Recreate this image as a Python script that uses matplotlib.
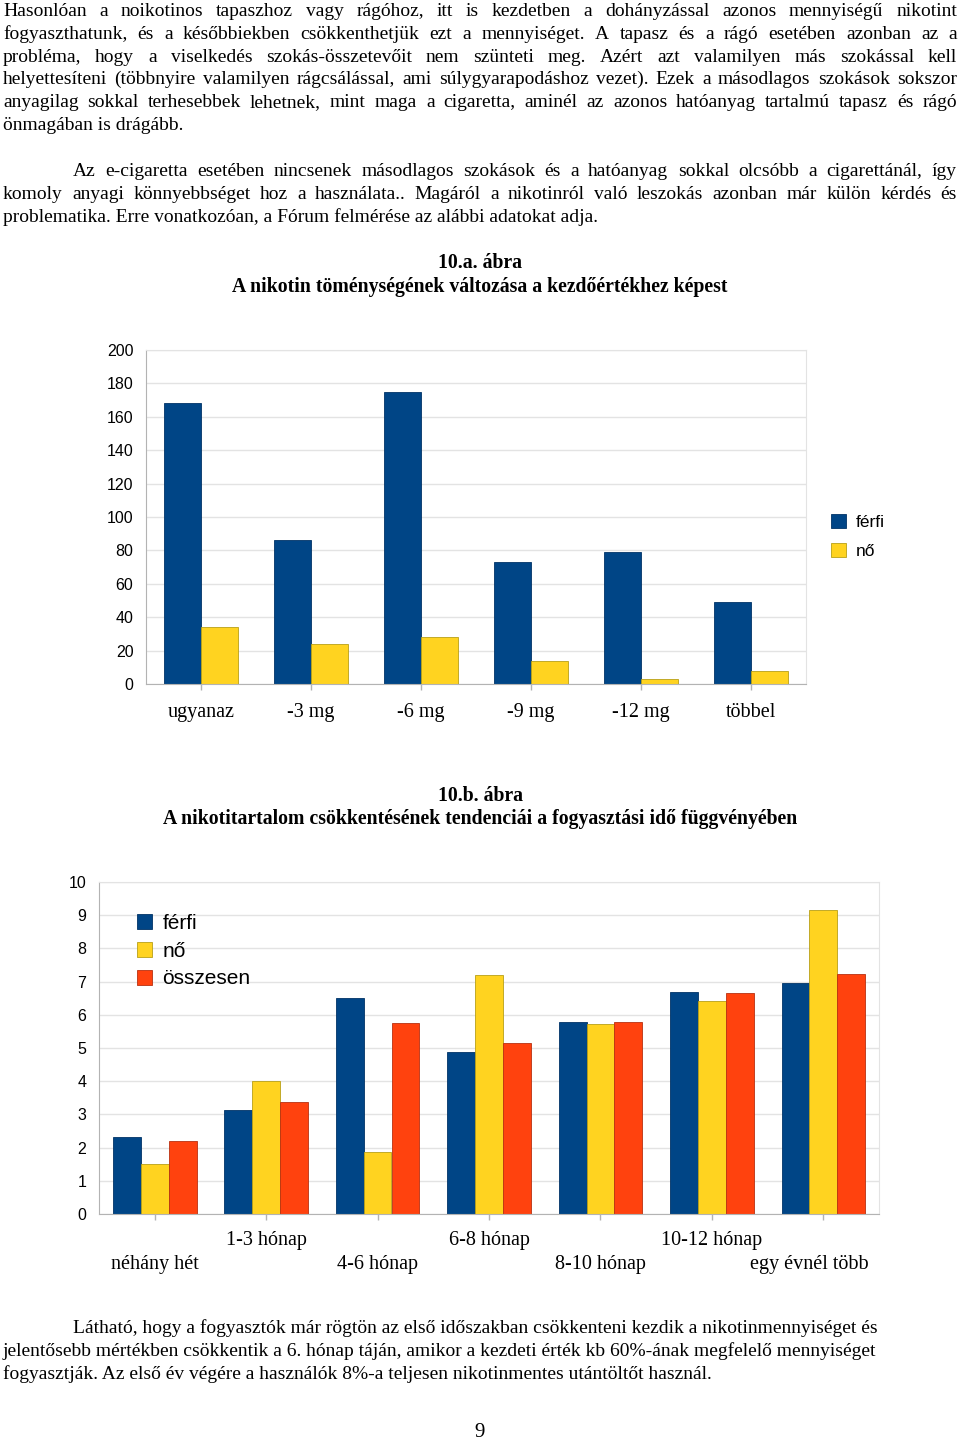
import matplotlib
matplotlib.use("Agg")
import matplotlib.pyplot as plt
import matplotlib.transforms as mtransforms
import numpy as np

W, H = 960, 1440
SERIF = "Liberation Serif"
SANS = "Liberation Sans"

# page text
para1 = [
    "Hasonlóan a noikotinos tapaszhoz vagy rágóhoz, itt is kezdetben a dohányzással azonos mennyiségű nikotint",
    "fogyaszthatunk, és  a későbbiekben csökkenthetjük ezt a mennyiséget. A tapasz és a rágó esetében azonban az a",
    "probléma, hogy a viselkedés szokás-összetevőit nem szünteti meg. Azért azt valamilyen más szokással kell",
    "helyettesíteni (többnyire valamilyen rágcsálással, ami súlygyarapodáshoz vezet). Ezek a másodlagos szokások sokszor",
    "anyagilag sokkal terhesebbek lehetnek, mint maga a cigaretta, aminél az azonos hatóanyag tartalmú tapasz és rágó",
    "önmagában is drágább.",
]
para2 = [
    "Az e-cigaretta esetében nincsenek másodlagos szokások és a hatóanyag sokkal olcsóbb a cigarettánál, így",
    "komoly anyagi könnyebbséget hoz a használata.. Magáról a nikotinról való leszokás azonban már külön kérdés és",
    "problematika. Erre vonatkozóan, a Fórum felmérése az alábbi adatokat adja.",
]
para3 = [
    "Látható, hogy a fogyasztók már rögtön az első időszakban csökkenteni kezdik a nikotinmennyiséget és",
    "jelentősebb mértékben csökkentik a 6. hónap táján, amikor a kezdeti érték kb 60%-ának megfelelő mennyiséget",
    "fogyasztják. Az első év végére a használók 8%-a teljesen nikotinmentes utántöltőt használ.",
]
title_a = ["10.a. ábra", "A nikotin töménységének változása a kezdőértékhez képest"]
title_b = ["10.b. ábra", "A nikotitartalom csökkentésének tendenciái a fogyasztási idő függvényében"]
page_no = "9"

# chart 10.a
cats_a = ["ugyanaz", "-3 mg", "-6 mg", "-9 mg", "-12 mg", "többel"]
ferfi_a = [168, 86, 175, 73, 79, 49]
no_a = [34, 24, 28, 14, 3, 8]

# chart 10.b
cats_b = ["néhány hét", "1-3 hónap", "4-6 hónap", "6-8 hónap", "8-10 hónap", "10-12 hónap", "egy évnél több"]
ferfi_b = [2.33, 3.13, 6.51, 4.87, 5.79, 6.70, 6.95]
no_b = [1.50, 4.00, 1.88, 7.19, 5.73, 6.43, 9.15]
ossz_b = [2.21, 3.37, 5.76, 5.14, 5.78, 6.65, 7.22]

BLUE, YELLOW, ORANGE = "#004586", "#ffd320", "#ff420e"
BLUE_E, YELLOW_E, ORANGE_E = "#003366", "#b8a017", "#b83010"

fig = plt.figure(figsize=(W / 100, H / 100), dpi=100)
rend = fig.canvas.get_renderer()


def fx(x):
    return x / W


def fy(y):
    return 1 - y / H


def put_line(s, x0, y, x1=None, size=14, weight="normal", justify=False):
    """places one text line, spreading words to x1 when justify is on"""
    if not justify:
        t = fig.text(fx(x0), fy(y), s, fontsize=size, family=SERIF,
                     weight=weight, va="baseline", ha="left")
        if x1 is not None:
            w = t.get_window_extent(renderer=rend).width
            if w > x1 - x0:
                t.set_fontsize(size * (x1 - x0) / w)
        return
    words = [w for w in s.split(" ") if w]
    texts = [fig.text(fx(x0), fy(y), w, fontsize=size, family=SERIF,
                      weight=weight, va="baseline", ha="left") for w in words]
    widths = [t.get_window_extent(renderer=rend).width for t in texts]
    gap = (x1 - x0 - sum(widths)) / (len(words) - 1)
    x = x0
    for t, w in zip(texts, widths):
        t.set_x(fx(x))
        x += w + gap


def put_center(s, y, size=14, weight="normal"):
    fig.text(0.5, fy(y), s, fontsize=size, family=SERIF, weight=weight,
             va="baseline", ha="center")


# paragraph 1
for i, line in enumerate(para1):
    last = i == len(para1) - 1
    put_line(line, 3, 16 + i * 22.8, 957, justify=not last)

# paragraph 2
for i, line in enumerate(para2):
    last = i == len(para2) - 1
    x0 = 73 if i == 0 else 3
    put_line(line, x0, 176 + i * 22.8, 957, justify=not last)

put_center(title_a[0], 268, size=14.2, weight="bold")
put_center(title_a[1], 292, size=14.2, weight="bold")
put_center(title_b[0], 801, size=14.2, weight="bold")
put_center(title_b[1], 824, size=14.2, weight="bold")

# paragraph 3 (narrower set)
put_line(para3[0], 73, 1333, 890)
put_line(para3[1], 3, 1356, 889)
put_line(para3[2], 3, 1379, 723)
put_center(page_no, 1437, size=15)


def style_axes(ax, ymax, step, pad):
    ax.set_ylim(0, ymax)
    ax.set_yticks(np.arange(0, ymax + step / 2, step))
    ax.yaxis.grid(True, color="#e3e3e3", linewidth=1)
    ax.set_axisbelow(True)
    for side in ["top", "right"]:
        ax.spines[side].set_color("#e3e3e3")
    for side in ["left", "bottom"]:
        ax.spines[side].set_color("#b3b3b3")
    ax.tick_params(axis="y", length=0, pad=pad, labelsize=11.5)
    ax.tick_params(axis="x", length=4, color="#b3b3b3", width=1)
    for lab in ax.get_yticklabels():
        lab.set_family(SANS)


# chart 10.a
ax1 = fig.add_axes([fx(146), fy(684), (806 - 146) / W, (684 - 350) / H])
xa = np.arange(len(cats_a))
bw = 1 / 3
ax1.bar(xa - bw / 2, ferfi_a, bw, color=BLUE, edgecolor=BLUE_E, linewidth=0.6, label="férfi")
ax1.bar(xa + bw / 2, no_a, bw, color=YELLOW, edgecolor=YELLOW_E, linewidth=0.6, label="nő")
ax1.set_xlim(-0.5, len(cats_a) - 0.5)
style_axes(ax1, 200, 20, 9)
ax1.set_xticks(xa)
ax1.set_xticklabels(cats_a, family=SERIF, fontsize=14.5)
ax1.tick_params(axis="x", pad=10)
ax1.legend(loc="upper left", bbox_to_anchor=(fx(831), fy(514)), bbox_transform=fig.transFigure,
           frameon=False, borderaxespad=0, borderpad=0,
           prop={"family": SANS, "size": 12.5}, handlelength=0.85, handleheight=0.85,
           handletextpad=0.55, labelspacing=0.78)

# chart 10.b
ax2 = fig.add_axes([fx(99), fy(1214), (879 - 99) / W, (1214 - 882) / H])
xb = np.arange(len(cats_b))
bw = 0.25
ax2.bar(xb - bw, ferfi_b, bw, color=BLUE, edgecolor=BLUE_E, linewidth=0.6, label="férfi")
ax2.bar(xb, no_b, bw, color=YELLOW, edgecolor=YELLOW_E, linewidth=0.6, label="nő")
ax2.bar(xb + bw, ossz_b, bw, color=ORANGE, edgecolor=ORANGE_E, linewidth=0.6, label="összesen")
ax2.set_xlim(-0.5, len(cats_b) - 0.5)
style_axes(ax2, 10, 1, 9)
ax2.set_xticks(xb)
ax2.set_xticklabels([])
trans_b = mtransforms.blended_transform_factory(ax2.transData, fig.transFigure)
for i, c in enumerate(cats_b):
    yoff = 1264 if i % 2 == 0 else 1241
    if i == len(cats_b) - 1:
        # last label is pulled inside the plot edge
        ax2.text(len(cats_b) - 0.5, fy(yoff), c + "  ", transform=trans_b, ha="right",
                 va="center", family=SERIF, fontsize=14.5)
    else:
        ax2.text(i, fy(yoff), c, transform=trans_b, ha="center", va="center",
                 family=SERIF, fontsize=14.5)
ax2.legend(loc="upper left", bbox_to_anchor=(fx(137), fy(914)), bbox_transform=fig.transFigure,
           frameon=False, borderaxespad=0, borderpad=0,
           prop={"family": SANS, "size": 15}, handlelength=0.72, handleheight=0.72,
           handletextpad=0.5, labelspacing=0.42)

fig.savefig("out.png", dpi=100)
